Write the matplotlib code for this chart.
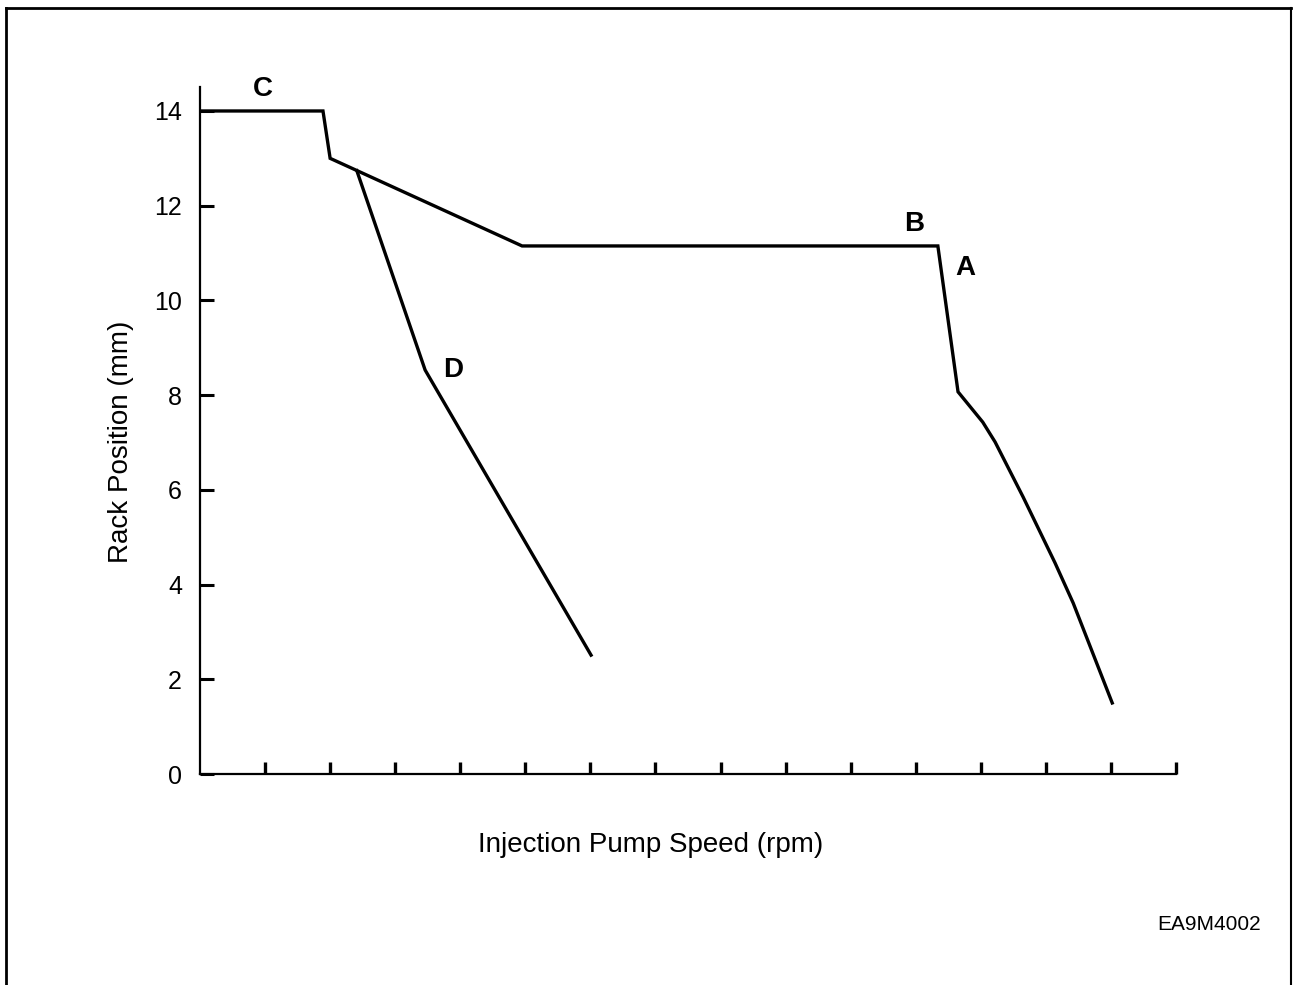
import matplotlib
matplotlib.use("Agg")
import matplotlib.pyplot as plt
from matplotlib.lines import Line2D

plt.rcParams['font.family'] = ['Liberation Sans', 'DejaVu Sans']

# ---- data ----
main_x = [0, 1.89, 2.0, 4.95, 11.34, 11.65, 12.03, 12.22, 12.65, 13.14, 13.42, 14.02]
main_y = [14, 14, 13.0, 11.15, 11.15, 8.07, 7.43, 7.01, 5.85, 4.46, 3.61, 1.50]
d_x = [2.41, 3.46, 6.01]
d_y = [12.74, 8.53, 2.51]
x_ticks = list(range(1, 16))
y_ticks = [0, 2, 4, 6, 8, 10, 12, 14]
y_tick_labels = [str(v) for v in y_ticks]
point_labels = ['C', 'B', 'A', 'D']
point_label_x = [0.97, 10.97, 11.76, 3.89]
point_label_y = [14.46, 11.62, 10.68, 8.53]
x_label = 'Injection Pump Speed (rpm)'
y_label = 'Rack Position (mm)'
code_label = 'EA9M4002'

W, H = 1295, 985
fig = plt.figure(figsize=(W / 100, H / 100), dpi=100)
fig.patch.set_facecolor('white')

ax_left, ax_right = 200 / W, 1176 / W
ax_bottom = 1 - 774 / H
ax_top = 1 - 87.3 / H
ax = fig.add_axes([ax_left, ax_bottom, ax_right - ax_left, ax_top - ax_bottom])
ax.set_xlim(0, 15)
ax.set_ylim(0, 14.5)

ax.plot(main_x, main_y, color='black', lw=2.4, solid_joinstyle='miter')
ax.plot(d_x, d_y, color='black', lw=2.4, solid_joinstyle='miter')

for s in ['top', 'right']:
    ax.spines[s].set_visible(False)
for s in ['left', 'bottom']:
    ax.spines[s].set_linewidth(1.6)

ax.set_xticks(x_ticks)
ax.set_xticklabels([])
ax.tick_params(axis='x', direction='in', length=8.6, width=2.4)
ax.set_yticks(y_ticks)
ax.set_yticklabels(y_tick_labels, fontsize=18)
ax.tick_params(axis='y', direction='in', length=10, width=2.2, pad=13)

for lab, lx, ly in zip(point_labels, point_label_x, point_label_y):
    ax.text(lx, ly, lab, fontsize=20, fontweight='bold', ha='center', va='center')

fig.text(651 / W, 1 - 845 / H, x_label, fontsize=20, ha='center', va='center')
fig.text(121 / W, 1 - 442 / H, y_label, fontsize=20, ha='center', va='center', rotation=90)
fig.text(1209 / W, 1 - 925 / H, code_label, fontsize=15, ha='center', va='center')

# outer frame (left, top, right; no bottom)
fl, ft, fr = 6 / W, 1 - 8 / H, 1291 / W
fig.add_artist(Line2D([fl, fl], [0, ft], transform=fig.transFigure, color='black', lw=2))
fig.add_artist(Line2D([fl, fr], [ft, ft], transform=fig.transFigure, color='black', lw=2))
fig.add_artist(Line2D([fr, fr], [ft, 0], transform=fig.transFigure, color='black', lw=1.5))

fig.savefig('out.png', dpi=100, facecolor='white')
